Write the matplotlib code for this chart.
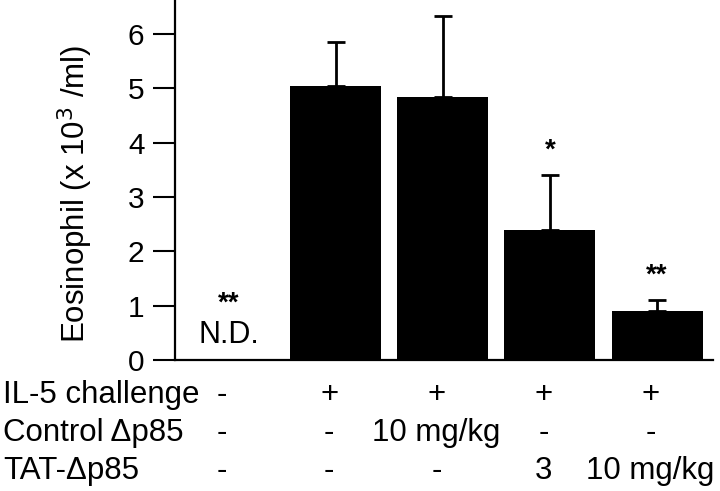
import numpy as np
import matplotlib
matplotlib.use('Agg')
import matplotlib.pyplot as plt
from matplotlib.transforms import blended_transform_factory

plt.rcParams['font.family'] = ['Liberation Sans', 'DejaVu Sans']

groups = [0, 1, 2, 3, 4]
means = [0.0, 5.05, 4.85, 2.40, 0.90]
errs = [0.0, 0.80, 1.48, 1.00, 0.20]
stars = ['', '', '', '*', '**']

row_names = ['IL-5 challenge', 'Control \u0394p85', 'TAT-\u0394p85']
row_vals = [['-', '+', '+', '+', '+'],
            ['-', '-', '10 mg/kg', '-', '-'],
            ['-', '-', '-', '3', '10 mg/kg']]

fig = plt.figure(figsize=(7.2, 4.91), dpi=100)
ax = fig.add_axes([0.243, 0.267, 0.747, 0.733])

x = np.array(groups)
ax.bar(x[1:], means[1:], width=0.85, color='black', zorder=2)
ax.errorbar(x[1:], means[1:], yerr=[np.zeros(4), errs[1:]], fmt='none',
            ecolor='black', elinewidth=2, capsize=6.5, capthick=2, zorder=1)

for i in range(1, 5):
    if stars[i]:
        ax.text(x[i], means[i] + errs[i] + 0.22, stars[i], ha='center', va='bottom',
                fontsize=20, fontweight='bold')

ax.text(0, 0.45, 'N.D.', ha='center', va='center', fontsize=22)
ax.text(0, 0.8, '**', ha='center', va='bottom', fontsize=20, fontweight='bold')

ax.set_xlim(-0.5, 4.52)
ax.set_ylim(0, 6.63)
ax.set_yticks([0, 1, 2, 3, 4, 5, 6])
ax.set_xticks([])
ax.spines['top'].set_visible(False)
ax.spines['right'].set_visible(False)
ax.spines['left'].set_linewidth(1.6)
ax.spines['bottom'].set_linewidth(1.6)
ax.tick_params(axis='y', direction='out', length=16, width=1.5, pad=6, labelsize=21.5)
ax.set_ylabel('Eosinophil (x 10$^3$ /ml)', fontsize=22.5)
ax.yaxis.set_label_coords(-0.149, 0.4625)

trans = blended_transform_factory(ax.transData, fig.transFigure)
row_y = [395, 433, 471]
for r in range(3):
    yf = 1 - row_y[r] / 491.0
    fig.text(3 / 720.0, yf, row_names[r], ha='left', va='center', fontsize=22.5)
    for c in range(5):
        ax.text(x[c] - 0.06, yf, row_vals[r][c], ha='center', va='center',
                fontsize=22.5, transform=trans, clip_on=False)

fig.savefig('out.png', dpi=100)
